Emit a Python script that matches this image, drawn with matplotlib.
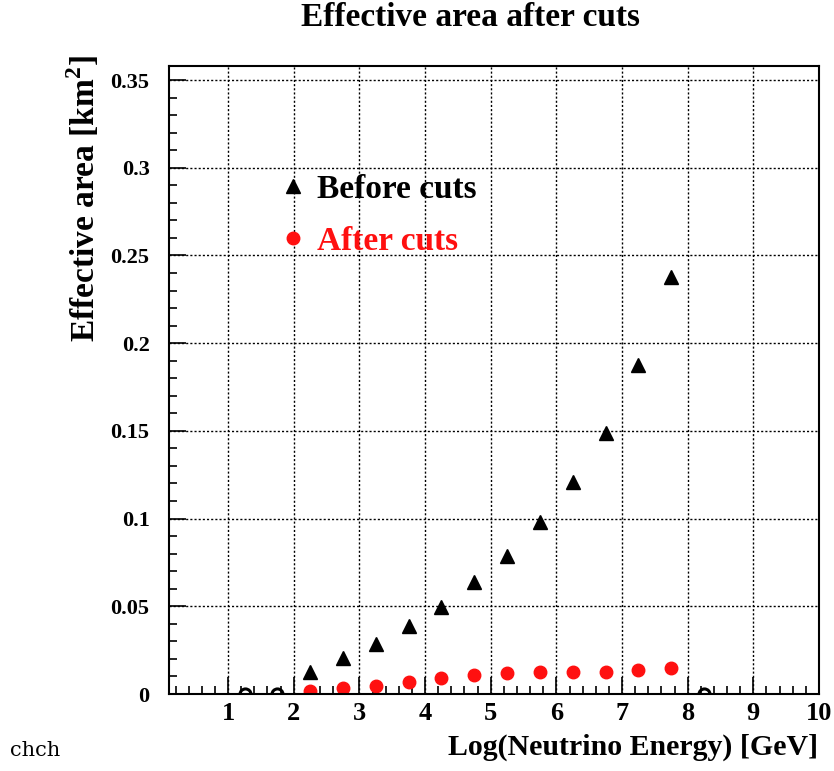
import matplotlib
matplotlib.use("Agg")
import matplotlib.pyplot as plt
from matplotlib.ticker import MultipleLocator

# bin centres in log10(E/GeV)
log_energy = [2.25, 2.75, 3.25, 3.75, 4.25, 4.75, 5.25, 5.75, 6.25, 6.75, 7.25, 7.75]
area_before = [0.0128, 0.0204, 0.0285, 0.0388, 0.0496, 0.0638, 0.0787, 0.0978,
               0.1210, 0.1488, 0.1876, 0.2380]
area_after = [0.0017, 0.0032, 0.0047, 0.0070, 0.0093, 0.0108, 0.0121, 0.0127,
              0.0127, 0.0127, 0.0137, 0.0147]
# empty bins (zero content)
empty_bins = [1.25, 1.75, 8.25]
empty_vals = [0.0, 0.0, 0.0]

xticks = [1, 2, 3, 4, 5, 6, 7, 8, 9, 10]
yticks = [0, 0.05, 0.1, 0.15, 0.2, 0.25, 0.3, 0.35]
ytick_labels = ["0", "0.05", "0.1", "0.15", "0.2", "0.25", "0.3", "0.35"]

plt.rcParams["font.family"] = ["Liberation Serif", "DejaVu Serif"]
plt.rcParams["font.weight"] = "bold"
plt.rcParams["mathtext.fontset"] = "custom"
plt.rcParams["mathtext.rm"] = "Liberation Serif:bold"
plt.rcParams["mathtext.bf"] = "Liberation Serif:bold"

RED = "#ff1010"

fig = plt.figure(figsize=(8.34, 7.71), dpi=100)
W, H = 834, 771
ax = fig.add_axes([169 / W, 1 - 694 / H, (819 - 169) / W, (694 - 66) / H])

ax.plot(log_energy, area_before, linestyle="none", marker="^", ms=10,
        color="black", label="Before cuts")
ax.plot(log_energy, area_after, linestyle="none", marker="o", ms=9,
        color=RED, label="After cuts")
ax.plot(empty_bins, empty_vals, linestyle="none", marker="o", ms=8,
        mfc="none", mec="black", mew=2.2)

ax.set_xlim(0.1, 10)
ax.set_ylim(0, 0.358)
ax.set_xticks(xticks)
ax.set_yticks(yticks)
ax.set_yticklabels(ytick_labels)
ax.xaxis.set_minor_locator(MultipleLocator(0.2))
ax.yaxis.set_minor_locator(MultipleLocator(0.01))
ax.tick_params(which="both", direction="in", top=False, right=False, width=1.2)
ax.tick_params(which="major", length=12)
ax.tick_params(which="minor", length=6)
ax.tick_params(axis="x", which="major", labelsize=19, pad=6)
ax.tick_params(axis="y", which="major", labelsize=16, pad=14)
ax.grid(True, which="major", color="black", linestyle=(0, (1.5, 1.5)), linewidth=1)
for s in ax.spines.values():
    s.set_linewidth(1.5)

leg = ax.legend(loc="upper left", bbox_to_anchor=(0.171, 0.828), frameon=False,
                fontsize=24, handlelength=0.8, handletextpad=0.3,
                labelspacing=0.62, borderaxespad=0, borderpad=0)
leg.get_texts()[1].set_color(RED)

fig.text(470 / W, 1 - 18 / H, "Effective area after cuts", ha="center",
         va="center", fontsize=24, fontweight="bold")
fig.text(818 / W, 1 - 747 / H, "Log(Neutrino Energy) [GeV]", ha="right",
         va="center", fontsize=21.5, fontweight="bold")
fig.text(84 / W, 1 - 55 / H, r"Effective area [km$^{\mathbf{2}}$]", rotation=90,
         ha="center", va="top", fontsize=24, fontweight="bold")
fig.text(10 / W, 1 - 751 / H, "chch", ha="left", va="center", fontsize=15,
         fontweight="normal", family=["DejaVu Serif"])

fig.savefig("out.png", dpi=100)
